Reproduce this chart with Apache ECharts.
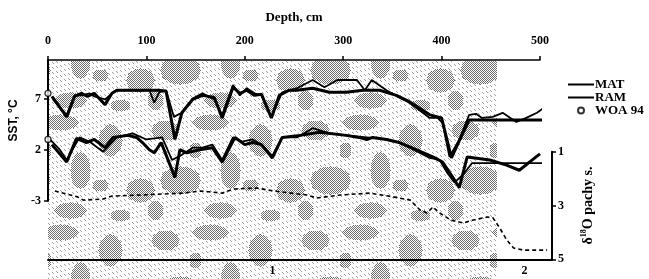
<!DOCTYPE html>
<html>
<head>
<meta charset="utf-8">
<script src="https://cdn.jsdelivr.net/npm/echarts@6/dist/echarts.min.js"></script>
<style>
  html, body { margin: 0; padding: 0; background: #fff; }
  #chart { width: 649px; height: 279px; }
</style>
</head>
<body>
<div id="chart"></div>
<script>
// depth in cm, SST in degC, d18O in permil
var depthTicks = [0, 100, 200, 300, 400, 500]
var sstTicks = [-3, 2, 7]
var d18OTicks = [1, 3, 5]

var depthMatUp = [5, 19, 27, 35, 42, 47, 58, 65, 70, 83, 103, 108, 113, 120, 128, 136, 147, 157, 169, 177, 188, 195, 202, 210, 217, 227, 238, 253, 269, 281, 294, 314, 322, 329, 344, 357, 367, 388, 396, 401, 408, 418, 428, 435, 441, 452, 462, 476, 486, 497, 504]
var sstMatUp = [6.9, 5.4, 7.3, 7.3, 7.5, 7.2, 6.9, 7.5, 7.8, 7.8, 7.8, 6.6, 7.6, 7.8, 5.2, 5.6, 7.0, 7.5, 6.9, 5.4, 8.3, 7.3, 8.0, 7.5, 7.3, 5.2, 7.6, 8.0, 8.8, 8.1, 8.8, 8.8, 7.8, 8.8, 7.8, 7.1, 6.6, 5.1, 5.1, 4.6, 1.3, 3.0, 5.4, 5.5, 5.1, 5.2, 5.6, 4.7, 5.1, 5.6, 6.1]

var depthRamUp = [4, 19, 27, 34, 40, 47, 58, 65, 70, 83, 103, 113, 120, 129, 136, 147, 157, 169, 177, 188, 195, 202, 210, 217, 227, 235, 245, 253, 269, 286, 303, 320, 337, 354, 367, 388, 400, 410, 423, 428, 449, 469, 499, 507]
var sstRamUp = [7.2, 5.2, 7.2, 7.5, 7.2, 7.5, 6.4, 7.5, 7.8, 7.8, 7.8, 7.8, 7.7, 3.0, 5.6, 6.9, 7.3, 7.1, 5.1, 8.1, 7.5, 7.8, 7.3, 7.4, 5.1, 7.3, 7.8, 7.8, 8.0, 7.6, 7.6, 7.8, 7.8, 7.3, 6.7, 5.4, 5.1, 1.2, 3.9, 4.9, 4.9, 4.9, 4.9, 4.9]

var depthMatLo = [2, 12, 19, 32, 42, 56, 70, 86, 100, 116, 126, 136, 147, 157, 167, 177, 188, 197, 208, 217, 228, 238, 253, 269, 286, 303, 324, 344, 357, 388, 398, 406, 413, 423, 431, 459, 479, 509]
var sstMatLo = [3.0, 2.0, 1.0, 3.2, 2.8, 1.8, 3.2, 3.6, 3.0, 3.2, 1.0, 1.5, 2.2, 2.2, 2.5, 1.0, 3.2, 2.8, 3.0, 2.5, 1.4, 3.2, 3.2, 4.1, 3.6, 3.4, 3.2, 3.0, 2.7, 1.2, 1.0, -0.3, -1.2, -0.3, 0.7, 0.7, 0.7, 0.7]

var depthRamLo = [4, 19, 29, 39, 47, 58, 66, 81, 90, 96, 103, 108, 115, 129, 134, 141, 154, 167, 177, 190, 200, 208, 217, 228, 238, 256, 276, 303, 316, 324, 330, 344, 357, 367, 391, 401, 410, 418, 426, 449, 466, 479, 496, 500]
var sstRamLo = [2.5, 0.8, 3.1, 2.7, 3.0, 2.2, 3.2, 3.4, 3.2, 2.7, 2.0, 1.7, 2.7, -0.7, 2.0, 1.7, 2.0, 2.2, 0.8, 3.2, 2.5, 2.7, 2.5, 1.2, 3.2, 3.4, 3.7, 3.4, 3.2, 3.0, 3.2, 3.0, 2.7, 2.3, 1.3, 0.8, -0.5, -1.7, 1.3, 1.0, 0.5, 0.0, 1.3, 1.6]

var depthWoa = [0, 0]
var sstWoa = [7.5, 3.0]

var depthO = [7, 30, 36, 56, 65, 94, 137, 155, 177, 188, 212, 229, 263, 273, 297, 327, 351, 368, 378, 385, 391, 398, 409, 422, 432, 446, 452, 459, 466, 473, 483, 507]
var d18O = [2.46, 2.68, 2.80, 2.76, 2.65, 2.61, 2.54, 2.46, 2.54, 2.39, 2.35, 2.46, 2.61, 2.72, 2.61, 2.54, 2.68, 2.80, 3.17, 3.28, 3.06, 3.28, 3.54, 3.65, 3.54, 3.43, 3.46, 3.84, 4.28, 4.58, 4.66, 4.66]

// isotope stages along the core
var stageNames = ['1', '2']
var stageBounds = [0, 456, 512]

var SERIF = 'Liberation Serif'
var SANS = 'Liberation Sans'

function pairs (xs, ys) {
  return xs.map(function (x, i) { return [x, ys[i]] })
}

// halftone-like texture of the shaded stage band: checkered patches + sparse hatching
function makePattern () {
  var w = 150
  var h = 110
  // [cx, cy, rx, ry]
  var blobs = [[15, 20, 14, 10], [60, 12, 18, 8], [110, 30, 12, 16], [140, 80, 14, 12],
    [30, 70, 20, 14], [80, 60, 10, 18], [70, 100, 16, 8], [120, 105, 10, 6],
    [5, 100, 8, 10], [100, 75, 8, 6], [45, 40, 6, 8]]
  var c = document.createElement('canvas')
  c.width = w
  c.height = h
  var ctx = c.getContext('2d')
  for (var x = 0; x < w; x++) {
    for (var y = 0; y < h; y++) {
      var inBlob = blobs.some(function (b) {
        var dx = Math.min(Math.abs(x - b[0]), w - Math.abs(x - b[0])) / b[2]
        var dy = Math.min(Math.abs(y - b[1]), h - Math.abs(y - b[1])) / b[3]
        return dx * dx + dy * dy <= 1
      })
      if (inBlob && (x + y) % 2 === 0) {
        ctx.fillStyle = '#6e6e6e'
        ctx.fillRect(x, y, 1, 1)
      } else if (!inBlob && (x - y + h) % 5 === 0 && (x % 4) < 2) {
        ctx.fillStyle = '#a0a0a0'
        ctx.fillRect(x, y, 1, 1)
      }
    }
  }
  return c
}

var stageMids = stageNames.map(function (s, i) { return (stageBounds[i] + stageBounds[i + 1]) / 2 })

var chart = echarts.init(document.getElementById('chart'))

var black = { color: '#000', width: 1.5 }
var lab = { color: '#000', fontFamily: SERIF, fontWeight: 'bold', fontSize: 12 }

chart.setOption({
  animation: false,
  grid: [
    { left: 48, top: 60, width: 492, height: 141 },
    { left: 48, top: 151.7, width: 504, height: 107.6 },
    { left: 48, top: 61, width: 449, bottom: 0 }
  ],
  legend: {
    data: [
      { name: 'MAT', itemStyle: { opacity: 0 } },
      { name: 'RAM', itemStyle: { opacity: 0 } },
      { name: 'WOA 94', icon: 'circle' }
    ],
    orient: 'vertical',
    left: 562,
    top: 73,
    itemWidth: 26,
    itemHeight: 6,
    itemGap: 0,
    textStyle: { color: '#000', fontFamily: SERIF, fontWeight: 'bold', fontSize: 13, padding: [0, 0, 0, -4] }
  },
  xAxis: [
    {
      gridIndex: 0,
      type: 'value',
      position: 'top',
      min: 0,
      max: 500,
      z: 6,
      axisLine: { show: true, onZero: false, lineStyle: black },
      axisTick: { show: true, customValues: depthTicks, length: 4, lineStyle: black },
      axisLabel: Object.assign({ customValues: depthTicks, margin: 13 }, lab),
      splitLine: { show: false },
      name: 'Depth, cm',
      nameLocation: 'middle',
      nameGap: 36,
      nameTextStyle: { color: '#000', fontFamily: SERIF, fontWeight: 'bold', fontSize: 13 }
    },
    {
      gridIndex: 1,
      type: 'value',
      position: 'bottom',
      min: stageBounds[0],
      max: stageBounds[stageBounds.length - 1],
      z: 6,
      axisLine: { show: true, onZero: false, lineStyle: { color: '#000', width: 2 } },
      axisTick: { show: false },
      axisLabel: Object.assign({
        customValues: stageMids,
        margin: 6,
        formatter: function (v) {
          for (var i = 0; i < stageNames.length; i++) {
            if (v < stageBounds[i + 1]) return stageNames[i]
          }
          return ''
        }
      }, lab),
      splitLine: { show: false }
    },
    { gridIndex: 2, type: 'value', min: 0, max: stageBounds[1], show: false }
  ],
  yAxis: [
    {
      gridIndex: 0,
      type: 'value',
      position: 'left',
      min: -3,
      max: 10.75,
      z: 6,
      axisLine: { show: true, onZero: false, lineStyle: { color: '#000', width: 2 } },
      axisTick: { show: true, customValues: sstTicks, length: 4, lineStyle: black },
      axisLabel: Object.assign({ customValues: sstTicks, margin: 7 }, lab),
      splitLine: { show: false },
      name: 'SST, °C',
      nameLocation: 'middle',
      nameGap: 18,
      nameTextStyle: { color: '#000', fontFamily: SANS, fontWeight: 'bold', fontSize: 12, padding: [0, 0, 0, 20] }
    },
    {
      gridIndex: 1,
      type: 'value',
      position: 'right',
      inverse: true,
      min: 1,
      max: 5,
      z: 6,
      axisLine: { show: true, onZero: false, lineStyle: { color: '#000', width: 2 } },
      axisTick: { show: true, customValues: d18OTicks, length: 4, lineStyle: black },
      axisLabel: Object.assign({ customValues: d18OTicks, margin: 6 }, lab),
      splitLine: { show: false },
      name: '{d|δ}{s|18}{d|O pachy s.}',
      nameLocation: 'middle',
      nameRotate: 90,
      nameGap: 28,
      nameTextStyle: {
        rich: {
          d: { color: '#000', fontFamily: SERIF, fontWeight: 'bold', fontSize: 14 },
          s: { color: '#000', fontFamily: SERIF, fontWeight: 'bold', fontSize: 8, padding: [0, 0, 8, 0] }
        }
      }
    },
    { gridIndex: 2, type: 'value', min: 0, max: 1, show: false }
  ],
  series: [
    {
      name: 'shade',
      type: 'line',
      xAxisIndex: 2,
      yAxisIndex: 2,
      data: [],
      z: 0,
      silent: true,
      markArea: {
        silent: true,
        itemStyle: { color: { image: makePattern(), repeat: 'repeat' } },
        data: [[{ xAxis: stageBounds[0] }, { xAxis: stageBounds[1] }]]
      }
    },
    {
      name: 'MAT',
      type: 'line',
      xAxisIndex: 0,
      yAxisIndex: 0,
      data: pairs(depthMatUp, sstMatUp),
      symbol: 'none',
      clip: false,
      z: 4,
      itemStyle: { color: '#000' },
      lineStyle: { color: '#000', width: 1.8 }
    },
    {
      name: 'MAT',
      type: 'line',
      xAxisIndex: 0,
      yAxisIndex: 0,
      data: pairs(depthMatLo, sstMatLo),
      symbol: 'none',
      clip: false,
      z: 4,
      itemStyle: { color: '#000' },
      lineStyle: { color: '#000', width: 1.8 }
    },
    {
      name: 'RAM',
      type: 'line',
      xAxisIndex: 0,
      yAxisIndex: 0,
      data: pairs(depthRamUp, sstRamUp),
      symbol: 'none',
      clip: false,
      z: 4,
      itemStyle: { color: '#000' },
      lineStyle: { color: '#000', width: 3 }
    },
    {
      name: 'RAM',
      type: 'line',
      xAxisIndex: 0,
      yAxisIndex: 0,
      data: pairs(depthRamLo, sstRamLo),
      symbol: 'none',
      clip: false,
      z: 4,
      itemStyle: { color: '#000' },
      lineStyle: { color: '#000', width: 3 }
    },
    {
      name: 'WOA 94',
      type: 'scatter',
      xAxisIndex: 0,
      yAxisIndex: 0,
      data: pairs(depthWoa, sstWoa),
      symbol: 'circle',
      symbolSize: 6,
      clip: false,
      z: 7,
      itemStyle: { color: '#fff', borderColor: '#000', borderWidth: 1.3 }
    },
    {
      name: 'd18O',
      type: 'line',
      xAxisIndex: 1,
      yAxisIndex: 1,
      data: pairs(depthO, d18O),
      symbol: 'none',
      clip: false,
      z: 4,
      lineStyle: { color: '#000', width: 1.6, type: [4, 3] }
    }
  ]
})
</script>
</body>
</html>
